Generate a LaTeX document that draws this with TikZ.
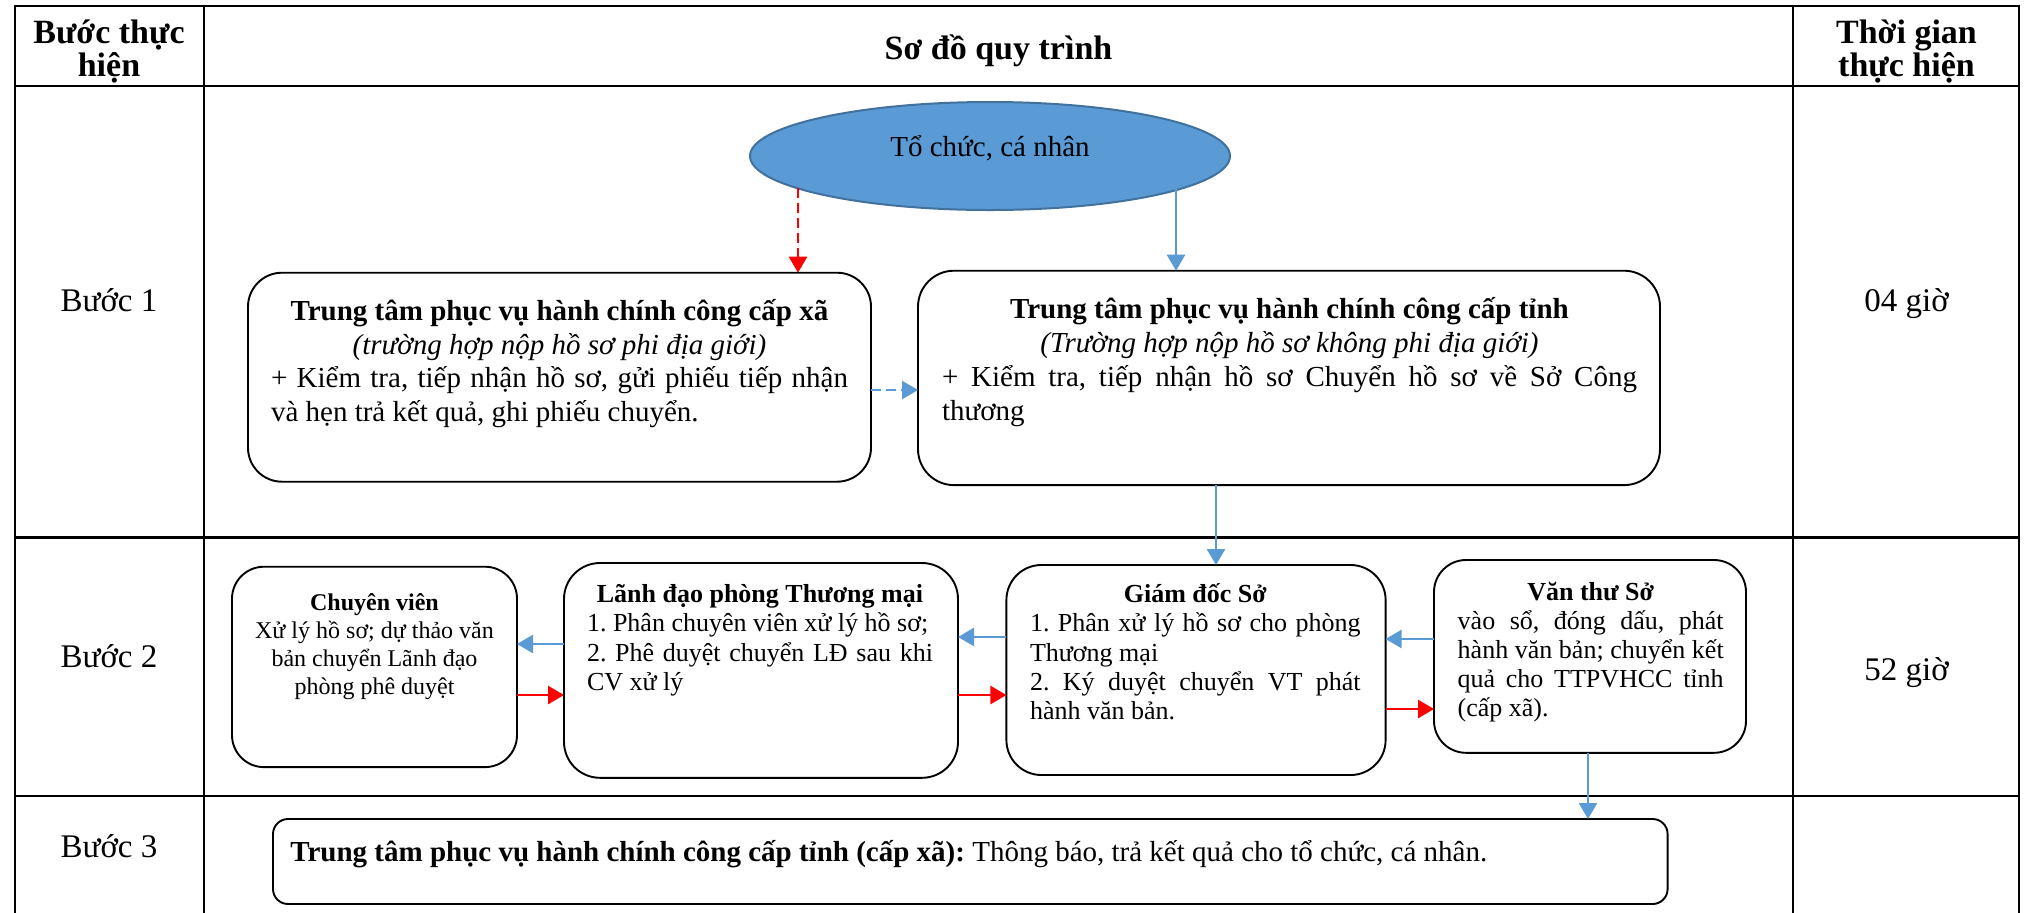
\documentclass[tikz,border=0pt]{standalone}
\usepackage{fontspec}
\setmainfont{Liberation Serif}
\usetikzlibrary{arrows.meta,shapes.geometric,calc}
\frenchspacing
\definecolor{accblue}{HTML}{5B9BD5}
\definecolor{ellborder}{HTML}{41719C}
\definecolor{accred}{HTML}{FF0000}
\newcommand\lnC[1]{\hbox to\hsize{\hfil#1\hfil}}
\newcommand\lnL[1]{\hbox to\hsize{#1\hfil}}
\newcommand\lnJ[1]{\hbox to\hsize{#1}}
\newcommand\tblock[2]{\vbox{\hsize=#1\relax\parindent=0pt\relax\frenchspacing #2}}
\newcommand\fstr{\vrule height1.1em depth0pt width0pt\relax}
\newcommand\fHead{\fontsize{17}{16.15}\selectfont\bfseries}
\newcommand\fStep{\fontsize{16.5}{18}\selectfont}
\newcommand\fBig{\fontsize{14.5}{16.75}\selectfont}
\newcommand\fBigB{\fontsize{14.5}{17}\selectfont}
\newcommand\fMid{\fontsize{13}{14.6}\selectfont}
\newcommand\fSmall{\fontsize{12}{14}\selectfont}
\tikzset{
  grid/.style={line width=1.35pt, line cap=rect},
  pbox/.style={draw=black, line width=0.95pt, rectangle, inner sep=0pt, outer sep=0pt},
  txt/.style={inner sep=0pt, outer sep=0pt, anchor=north},
  lbl/.style={inner sep=0pt, outer sep=0pt, anchor=base},
  tip/.style={-{Triangle[length=8pt,width=9pt]}},
  barrow/.style={tip, draw=accblue, fill=accblue, line width=1.35pt},
  rarrow/.style={tip, draw=accred, fill=accred, line width=1.35pt},
  dsh/.style={dash pattern=on 5pt off 2.5pt},
}
\begin{document}
\begin{tikzpicture}[x=0.5pt, y=-0.5pt]
\useasboundingbox (0,0) rectangle (2024,912);
% table grid
\draw[grid] (15,6) -- (2019,6);
\draw[grid] (15,86) -- (2019,86);
\draw[grid] (15,537.7) -- (2019,537.7);
\draw[grid] (15,796) -- (2019,796);
\draw[grid] (15,6) -- (15,912);
\draw[grid] (204,6) -- (204,912);
\draw[grid] (1793,6) -- (1793,912);
\draw[grid] (2019,6) -- (2019,912);
% header
\node[txt] (h1) at (109,6.5) {\tblock{90pt}{\fHead\lnC{\fstr Bước thực}\lnC{hiện}}};
\node[lbl] (h2) at (998.5,59.3) {\fHead Sơ đồ quy trình};
\node[txt] (h3) at (1906.5,6.5) {\tblock{90pt}{\fHead\lnC{\fstr Thời gian}\lnC{thực hiện}}};
% step labels and times
\node[lbl] (s1) at (109,311.7) {\fStep Bước 1};
\node[lbl] (t1) at (1906.5,311.7) {\fStep 04 giờ};
\node[lbl] (s2) at (109,667) {\fStep Bước 2};
\node[lbl] (t2) at (1906.5,680) {\fStep 52 giờ};
\node[lbl] (s3) at (109,857.7) {\fStep Bước 3};
% ellipse
\node[ellipse, draw=ellborder, fill=accblue, line width=1pt, minimum width=240pt,
  minimum height=54pt, inner sep=0pt, text height=8pt, text depth=8pt,
  font=\fBig] (org) at (990,156) {Tổ chức, cá nhân};
\coordinate (orgL) at ($(org.center)+(-192,32.4)$);
\coordinate (orgR) at ($(org.center)+(186,33)$);
% step 1 boxes
\node[pbox, rounded corners=17pt, minimum width=311.5pt, minimum height=104.5pt] (boxa) at (559.5,377.2) {};
\node[txt] (boxatxt) at (559.5,288.8) {\tblock{288.5pt}{\fBig
  \lnC{\fstr\textbf{Trung tâm phục vụ hành chính công cấp xã}}
  \lnC{\textit{(trường hợp nộp hồ sơ phi địa giới)}}
  \lnJ{+ Kiểm tra, tiếp nhận hồ sơ, gửi phiếu tiếp nhận}
  \lnL{và hẹn trả kết quả, ghi phiếu chuyển.}}};
\node[pbox, rounded corners=18pt, minimum width=371pt, minimum height=107.2pt] (boxb) at (1289,377.9) {};
\node[txt] (boxbtxt) at (1289.5,286.4) {\tblock{347.5pt}{\fBigB
  \lnC{\fstr\textbf{Trung tâm phục vụ hành chính công cấp tỉnh}}
  \lnC{\textit{(Trường hợp nộp hồ sơ không phi địa giới)}}
  \lnJ{+ Kiểm tra, tiếp nhận hồ sơ Chuyển hồ sơ về Sở Công}
  \lnL{thương}}};
% step 2 boxes
\node[pbox, rounded corners=16pt, minimum width=142.5pt, minimum height=100.2pt] (cv) at (374.5,666.9) {};
\node[txt] (cvtxt) at (374.5,583.6) {\tblock{130pt}{\fSmall
  \lnC{\fstr\textbf{Chuyên viên}}
  \lnC{Xử lý hồ sơ; dự thảo văn}
  \lnC{bản chuyển Lãnh đạo}
  \lnC{phòng phê duyệt}}};
\node[pbox, rounded corners=18pt, minimum width=197pt, minimum height=107.4pt] (ld) at (761,670.4) {};
\node[txt] (ldtxt) at (760,574.1) {\tblock{173pt}{\fMid
  \lnC{\fstr\textbf{Lãnh đạo phòng Thương mại}}
  \lnL{1. Phân chuyên viên xử lý hồ sơ;}
  \lnJ{2. Phê duyệt chuyển LĐ sau khi}
  \lnL{CV xử lý}}};
\node[pbox, rounded corners=17.5pt, minimum width=189.6pt, minimum height=105pt] (gd) at (1196,670) {};
\node[txt] (gdtxt) at (1195.3,574.1) {\tblock{165.3pt}{\fMid
  \lnC{\fstr\textbf{Giám đốc Sở}}
  \lnJ{1. Phân xử lý hồ sơ cho phòng}
  \lnL{Thương mại}
  \lnJ{2. Ký duyệt chuyển VT phát}
  \lnL{hành văn bản.}}};
\node[pbox, rounded corners=16pt, minimum width=156pt, minimum height=96.4pt] (vt) at (1590,656.4) {};
\node[txt] (vttxt) at (1590.7,571.4) {\tblock{133pt}{\fMid
  \lnC{\fstr\textbf{Văn thư Sở}}
  \lnJ{vào sổ, đóng dấu, phát}
  \lnJ{hành văn bản; chuyển kết}
  \lnJ{quả cho TTPVHCC tỉnh}
  \lnL{(cấp xã).}}};
% step 3 box
\node[pbox, rounded corners=7.5pt, minimum width=697.3pt, minimum height=42.5pt] (b3) at (970.3,861.5) {};
\node[inner sep=0pt, anchor=base west] (b3txt) at (290,861) {\fBig\textbf{Trung tâm phục vụ hành chính công cấp tỉnh (cấp xã):} Thông báo, trả kết quả cho tổ chức, cá nhân.};
% connectors
\draw[rarrow, dsh] (orgL) -- (orgL |- boxa.north);
\draw[barrow] (orgR) -- (orgR |- boxb.north);
\draw[barrow, dsh] (boxa.east |- 0,390) -- (boxb.west |- 0,390);
\draw[barrow] (boxb.south -| 1216,0) -- (gd.north -| 1216,0);
\draw[barrow] (ld.west |- 0,644) -- (cv.east |- 0,644);
\draw[rarrow] (cv.east |- 0,695) -- (ld.west |- 0,695);
\draw[barrow] (gd.west |- 0,637) -- (ld.east |- 0,637);
\draw[rarrow] (ld.east |- 0,695) -- (gd.west |- 0,695);
\draw[barrow] (vt.west |- 0,639) -- (gd.east |- 0,639);
\draw[rarrow] (gd.east |- 0,709) -- (vt.west |- 0,709);
\draw[barrow] (vt.south -| 1588,0) -- (b3.north -| 1588,0);
\end{tikzpicture}
\end{document}
